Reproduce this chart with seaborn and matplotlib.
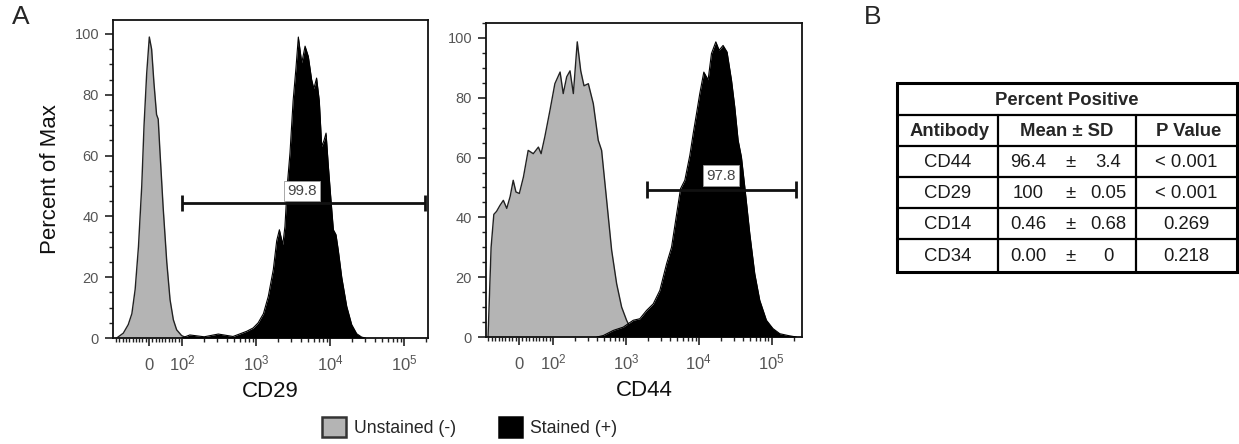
import numpy as np
import pandas as pd
import seaborn as sns
import matplotlib
matplotlib.use("Agg")
import matplotlib.pyplot as plt
from matplotlib.patches import Patch
from matplotlib.ticker import FixedLocator, MultipleLocator

# ---------------- data ----------------
# CD29 panel: fluorescence intensity vs. percent of max
cd29_unst_x = [-98, -78, -63, -52, -42, -32, -22, -15, -7, 1, 8, 15, 23, 28, 33,
               43, 54, 64, 74, 84, 99, 116]
cd29_unst_y = [0, 1.6, 4.4, 8, 16, 30, 50, 70, 87, 99, 95, 84, 73.5, 72, 62,
               43, 25, 12.6, 6, 2.7, 0.8, 0]
cd29_st_x = [100, 128, 200, 310, 490, 748, 915, 1070, 1260, 1466, 1713, 1904, 2070,
             2300, 2460, 2640, 2880, 3170, 3470, 3730, 4150, 4600, 5090, 5640, 6040,
             6580, 7160, 7720, 8290, 8830, 9490, 10200, 11090, 12030, 12900, 14380,
             16800, 19600, 22900, 26700, 30000]
cd29_st_y = [0, 1.0, 0.4, 1.3, 0.5, 2.2, 3.3, 5, 8, 13.7, 22.5, 32, 35.6,
             30.7, 36.7, 50, 61, 78, 89, 99, 90.5, 96, 92.6, 85, 82,
             85.5, 78, 63, 65, 67.4, 56.5, 46.6, 35.6, 34, 29, 20,
             10.4, 4.4, 1.4, 0.3, 0]

# CD44 panel
cd44_unst_x = [-91, -82, -74, -66, -56, -46, -36, -26, -17, -9, 1, 13, 27, 42, 57, 65,
               76, 91, 106, 125, 138, 154, 171, 190, 215, 240, 266, 305, 357, 417,
               464, 544, 637, 746, 873, 1020, 1197, 1400, 1600]
cd44_unst_y = [0, 30, 41, 42, 44, 45.7, 43, 47, 52.4, 48.5, 48, 53.5, 62.4, 61.3, 63.5,
               61.3, 67, 75.8, 84.7, 88.6, 81.4, 87, 89, 81.4, 98.7, 89, 84, 84.7, 78,
               65.8, 62.4, 45.7, 29, 17.8, 10, 5.6, 2.2, 0.6, 0]
cd44_st_x = [400, 490, 670, 918, 1260, 1550, 1920, 2370, 2920, 3610, 4220, 4950, 5610,
             6420, 7530, 8360, 9290, 10300, 11700, 13400, 14900, 17100, 19000, 21500,
             24400, 28100, 31100, 34600, 38400, 42700, 50000, 58500, 68500, 84600,
             104000, 129000, 167000, 217000]
cd44_st_y = [0, 0.5, 2.2, 3.3, 5.6, 6.1, 8.9, 11.1, 15.6, 24.5, 30, 41, 49.6,
             52.4, 60.8, 68, 74.7, 81.4, 88.6, 86, 94.8, 98.7, 95.9, 97.5,
             95.3, 85.8, 77, 65.8, 60.2, 50.2, 34.6, 21.2, 12.3, 5.6,
             2.8, 1.1, 0.5, 0]

# positive gates: [low, high], height, percent in gate
cd29_gate = [100, 190000]
cd29_gate_y = 44.4
cd29_pct = 99.8
cd44_gate = [1950, 218000]
cd44_gate_y = 49.3
cd44_pct = 97.8

# x tick labels
xtick_vals = [0, 1e2, 1e3, 1e4, 1e5]
xtick_labels = [r"$0$", r"$10^{2}$", r"$10^{3}$", r"$10^{4}$", r"$10^{5}$"]

# summary table
antibodies = ["CD44", "CD29", "CD14", "CD34"]
means = ["96.4", "100", "0.46", "0.00"]
sds = ["3.4", "0.05", "0.68", "0"]
pvalues = ["< 0.001", "< 0.001", "0.269", "0.218"]

# ---------------- style ----------------
sns.set_style("ticks")
plt.rcParams["font.family"] = ["Liberation Sans", "DejaVu Sans"]
plt.rcParams["mathtext.fontset"] = "custom"
plt.rcParams["mathtext.rm"] = "Liberation Sans"
plt.rcParams["mathtext.it"] = "Liberation Sans:italic"
plt.rcParams["mathtext.bf"] = "Liberation Sans:bold"
plt.rcParams["mathtext.default"] = "regular"

UNST_COLOR = "#b4b4b4"
ST_COLOR = "#000000"
TICK_LABEL = "#555555"

W, H = 1239, 444
fig = plt.figure(figsize=(W / 100, H / 100), dpi=100)


def px_axes(x0, y0, x1, y1):
    """Axes from pixel box (top-left origin)."""
    return fig.add_axes([x0 / W, 1 - y1 / H, (x1 - x0) / W, (y1 - y0) / H])


def draw_panel(ax, ux, uy, sx, sy, linscale, xlim, ytop, gate, gate_y, pct,
               lab_xy, xlabel):
    ax.fill_between(ux, uy, color=UNST_COLOR, lw=0, zorder=1)
    sns.lineplot(x=ux, y=uy, ax=ax, color="#222222", lw=1.0, estimator=None,
                 sort=False, legend=False, zorder=2)
    ax.fill_between(sx, sy, color=ST_COLOR, lw=0, zorder=3)
    sns.lineplot(x=sx, y=sy, ax=ax, color=ST_COLOR, lw=0.8, estimator=None,
                 sort=False, legend=False, zorder=3)

    ax.set_xscale("symlog", linthresh=100, linscale=linscale)
    ax.set_xlim(*xlim)
    ax.set_ylim(0, ytop)

    # gate bar with end caps
    ax.hlines(gate_y, gate[0], gate[1], color="#111111", lw=2, zorder=4)
    ax.vlines(gate, gate_y - 2.7, gate_y + 2.7, color="#111111", lw=2, zorder=4)
    ax.text(lab_xy[0], lab_xy[1], f"{pct:.1f}", ha="center", va="center",
            fontsize=11, color="#444444", zorder=5,
            bbox=dict(boxstyle="square,pad=0.2", fc="white", ec="#9a9a9a", lw=0.6))

    ax.set_xticks(xtick_vals)
    ax.set_xticklabels(xtick_labels)
    minors = [v for v in range(-100, 101, 10) if v != 0 and xlim[0] <= v]
    for k in range(2, 6):
        minors += [m * 10 ** k for m in range(2, 10) if m * 10 ** k < xlim[1]]
    ax.xaxis.set_minor_locator(FixedLocator(minors))
    ax.set_yticks([0, 20, 40, 60, 80, 100])
    ax.yaxis.set_minor_locator(MultipleLocator(5))

    ax.tick_params(which="major", direction="out", length=6, width=1.2,
                   color="#222222", labelcolor=TICK_LABEL, labelsize=10.5, pad=4)
    ax.tick_params(which="minor", direction="out", length=3, width=1.0,
                   color="#222222")
    # x labels share one baseline so "0" lines up with the powers of ten
    ax.tick_params(axis="x", which="major", pad=17, labelsize=12)
    for lbl in ax.get_xticklabels():
        lbl.set_verticalalignment("baseline")
    for sp in ax.spines.values():
        sp.set_linewidth(1.3)
        sp.set_color("#111111")
    ax.set_xlabel(xlabel, fontsize=16, labelpad=6, color="#111111")
    ax.set_ylabel("")


ax1 = px_axes(113, 20, 428, 338)
draw_panel(ax1, cd29_unst_x, cd29_unst_y, cd29_st_x, cd29_st_y, 0.40,
           (-110, 2.1e5), 104.6, cd29_gate, cd29_gate_y, cd29_pct,
           (4150, 48.3), "CD29")
ax1.set_ylabel("Percent of Max", fontsize=16, labelpad=10, color="#111111")

ax2 = px_axes(486, 23, 802, 337)
draw_panel(ax2, cd44_unst_x, cd44_unst_y, cd44_st_x, cd44_st_y, 0.42,
           (-97, 2.6e5), 105.0, cd44_gate, cd44_gate_y, cd44_pct,
           (20000, 54.0), "CD44")

# panel letters
fig.text(12 / W, 1 - 17 / H, "A", fontsize=19, ha="left", va="center")
fig.text(864 / W, 1 - 17 / H, "B", fontsize=19, ha="left", va="center")

# legend
handles = [Patch(facecolor=UNST_COLOR, edgecolor="#333333", lw=1.8, label="Unstained (-)"),
           Patch(facecolor=ST_COLOR, edgecolor="#000000", lw=1.8, label="Stained (+)")]
fig.legend(handles=handles, loc="center", bbox_to_anchor=(470 / W, 1 - 427 / H),
           ncol=2, frameon=False, fontsize=12.7, handlelength=1.35,
           handleheight=1.35, handletextpad=0.45, columnspacing=2.4)

# ---------------- table ----------------
tx0, tx1, ty0, ty1 = 897, 1237, 83, 272
axt = px_axes(tx0, ty0, tx1, ty1)
axt.set_xlim(tx0, tx1)
axt.set_ylim(ty1, ty0)
axt.axis("off")

row_lines = [115, 146, 177, 208, 239]
col_lines = [998, 1136]
axt.plot([tx0, tx1, tx1, tx0, tx0], [ty0, ty0, ty1, ty1, ty0], color="black",
         lw=2.2, solid_joinstyle="miter", clip_on=False)
for y in row_lines:
    axt.plot([tx0, tx1], [y, y], color="black", lw=1.6, clip_on=False)
for x in col_lines:
    axt.plot([x, x], [row_lines[0], ty1], color="black", lw=1.6, clip_on=False)

FS = 13.3
axt.text((tx0 + tx1) / 2, (ty0 + row_lines[0]) / 2 + 1, "Percent Positive",
         ha="center", va="center", fontsize=FS, fontweight="bold")
hy = (row_lines[0] + row_lines[1]) / 2 + 1
axt.text((tx0 + col_lines[0]) / 2 + 2, hy, "Antibody", ha="center", va="center",
         fontsize=FS, fontweight="bold")
axt.text((col_lines[0] + col_lines[1]) / 2, hy, "Mean ± SD", ha="center", va="center",
         fontsize=FS, fontweight="bold")
axt.text((col_lines[1] + tx1) / 2 + 2, hy, "P Value", ha="center", va="center",
         fontsize=FS, fontweight="bold")

row_tops = row_lines[1:]
row_bottoms = row_lines[2:] + [ty1]
for i, (ab, m, s, p) in enumerate(zip(antibodies, means, sds, pvalues)):
    cy = (row_tops[i] + row_bottoms[i]) / 2 + 1
    axt.text((tx0 + col_lines[0]) / 2, cy, ab, ha="center", va="center",
             fontsize=FS, color="#1a1a1a")
    axt.text(1028, cy, m, ha="center", va="center", fontsize=FS, color="#1a1a1a")
    axt.text(1070, cy, "±", ha="center", va="center", fontsize=FS, color="#1a1a1a")
    axt.text(1108, cy, s, ha="center", va="center", fontsize=FS, color="#1a1a1a")
    axt.text((col_lines[1] + tx1) / 2, cy, p, ha="center", va="center",
             fontsize=FS, color="#1a1a1a")

fig.savefig("out.png", dpi=100, facecolor="white")
